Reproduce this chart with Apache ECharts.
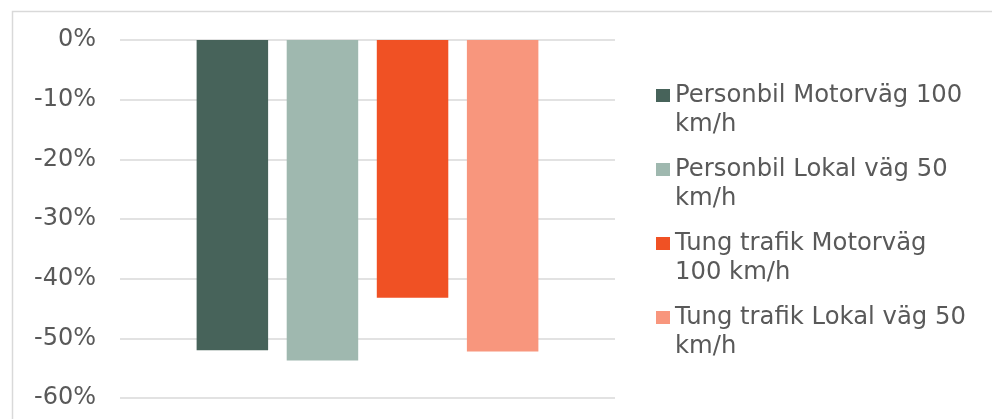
<!DOCTYPE html>
<html>
<head>
<meta charset="utf-8">
<script src="https://cdn.jsdelivr.net/npm/echarts@6/dist/echarts.min.js"></script>
<style>
  html, body { margin: 0; padding: 0; background: #fff; }
  #chart { width: 992px; height: 419px; }
</style>
</head>
<body>
<div id="chart"></div>
<script>
// series (one bar each)
const seriesNames = [
  "Personbil Motorväg 100 km/h",
  "Personbil Lokal väg 50 km/h",
  "Tung trafik Motorväg 100 km/h",
  "Tung trafik Lokal väg 50 km/h"
];
// legend text as wrapped in the picture
const legendLines = [
  "Personbil Motorväg 100\nkm/h",
  "Personbil Lokal väg 50\nkm/h",
  "Tung trafik Motorväg\n100 km/h",
  "Tung trafik Lokal väg 50\nkm/h"
];
const values = [-52.0, -53.7, -43.2, -52.2]; // percent
const categories = [""];
const yMin = -60, yMax = 0, yStep = 10;

const colors = ["#47635a", "#9fb8af", "#f05124", "#f8967d"];
const textColor = "#595959";
const font = "DejaVu Sans, Verdana, sans-serif";

const chart = echarts.init(document.getElementById("chart"));

chart.setOption({
  animation: false,
  color: colors,
  grid: { left: 120, right: 377, top: 40, bottom: 21 },
  graphic: [{
    type: "rect",
    shape: { x: 12.5, y: 11.5, width: 1000, height: 420 },
    style: { fill: "none", stroke: "#d9d9d9", lineWidth: 1.5 },
    silent: true
  }],
  legend: {
    orient: "vertical",
    left: 656,
    top: 52,
    padding: 0,
    itemGap: -13,
    itemWidth: 14,
    itemHeight: 13,
    icon: "rect",
    data: seriesNames,
    formatter: function (name) {
      // leading blank line keeps the icon level with the first line
      return " \n" + legendLines[seriesNames.indexOf(name)];
    },
    textStyle: {
      color: textColor,
      fontFamily: font,
      fontSize: 24.3,
      lineHeight: 29
    }
  },
  xAxis: {
    type: "category",
    data: categories,
    axisLine: { show: false },
    axisTick: { show: false },
    axisLabel: { show: false }
  },
  yAxis: {
    type: "value",
    min: yMin,
    max: yMax,
    interval: yStep,
    axisLine: { show: false },
    axisTick: { show: false },
    axisLabel: {
      formatter: "{value}%",
      color: textColor,
      fontFamily: font,
      fontSize: 24,
      margin: 24,
      padding: [5, 0, 0, 0]
    },
    splitLine: { lineStyle: { color: "#d9d9d9", width: 1.5 } }
  },
  series: seriesNames.map(function (name, i) {
    return {
      name: name,
      type: "bar",
      data: [values[i]],
      barWidth: 71.5,
      barGap: "26%"
    };
  })
});
</script>
</body>
</html>
